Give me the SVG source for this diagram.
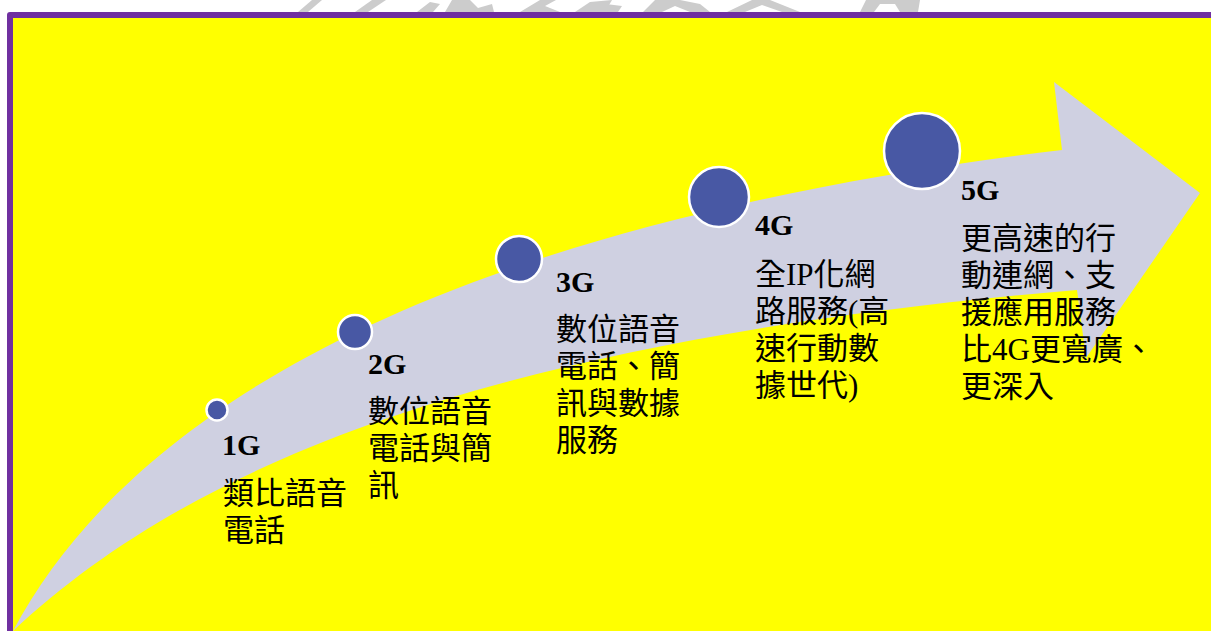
<svg xmlns="http://www.w3.org/2000/svg" width="1211" height="631" viewBox="0 0 1211 631">
<style>
.dot{fill:#4858a4;stroke:#ffffff;stroke-width:2.5}
.g{font-family:"Liberation Serif","Times New Roman",serif;font-weight:bold;font-size:30px;fill:#000}
.t{font-family:"Liberation Serif","Noto Sans CJK TC","Noto Sans CJK SC",serif;font-size:31px;fill:#000}
.wm{fill:#cccccc}
</style>
<rect x="0" y="0" width="1211" height="631" fill="#ffffff"/>
<g id="watermark" class="wm">
<path d="M298,12 L312,0 L322,0 L308,12 Z"/>
<path d="M355,12 L372,0 L386,0 L368,12 Z"/>
<path d="M417,12 L430,2 L440,4 L433,12 Z"/>
<path d="M445,12 L452,0 L470,0 L478,8 L492,4 L494,12 Z"/>
<path d="M520,12 L540,0 L556,0 L545,6 L560,12 Z"/>
<path d="M575,12 L590,2 L612,0 L605,12 Z"/>
<path d="M600,12 L606,4 L622,6 L618,12 Z"/>
<path d="M643,12 L655,0 L680,0 L700,4 L710,12 L690,12 L675,6 L662,12 Z"/>
<path d="M727,12 L752,0 L770,0 L800,12 L782,12 L762,5 L745,12 Z"/>
<path d="M860,12 L866,0 L920,0 L918,12 L900,12 L895,4 L880,4 L874,12 Z"/>
</g>
<g id="frame">
<rect x="7" y="12" width="1210" height="625" rx="3" fill="#7030a0"/>
<rect x="13" y="18" width="1204" height="620" fill="#ffff00"/>
</g>
<g id="arrow">
<path d="M13,631 C120,430 400,230 1062,150 L1054,82 L1200,193 L1086,358 L1077,290 C490,340 190,465 13,631 Z" fill="#cfd0e1"/>
</g>
<g id="node-1G">
<circle class="dot" cx="217" cy="410" r="10.5"/>
<text class="g" x="222" y="455">1G</text>
<text class="t" x="223" y="504">類比語音</text>
<text class="t" x="223" y="541">電話</text>
</g>
<g id="node-2G">
<circle class="dot" cx="355" cy="332" r="17"/>
<text class="g" x="368" y="374">2G</text>
<text class="t" x="368" y="422">數位語音</text>
<text class="t" x="368" y="459">電話與簡</text>
<text class="t" x="368" y="496">訊</text>
</g>
<g id="node-3G">
<circle class="dot" cx="519" cy="259" r="23"/>
<text class="g" x="556" y="292">3G</text>
<text class="t" x="556" y="340">數位語音</text>
<text class="t" x="556" y="377">電話、簡</text>
<text class="t" x="556" y="414">訊與數據</text>
<text class="t" x="556" y="451">服務</text>
</g>
<g id="node-4G">
<circle class="dot" cx="719" cy="197" r="30"/>
<text class="g" x="755" y="235">4G</text>
<text class="t" x="755" y="285">全IP化網</text>
<text class="t" x="755" y="322">路服務(高</text>
<text class="t" x="755" y="359">速行動數</text>
<text class="t" x="755" y="396">據世代)</text>
</g>
<g id="node-5G">
<circle class="dot" cx="922" cy="151" r="38"/>
<text class="g" x="961" y="200">5G</text>
<text class="t" x="961" y="249">更高速的行</text>
<text class="t" x="961" y="286">動連網、支</text>
<text class="t" x="961" y="323">援應用服務</text>
<text class="t" x="961" y="360">比4G更寬廣、</text>
<text class="t" x="961" y="397">更深入</text>
</g>
<g id="connectors"></g>
</svg>
